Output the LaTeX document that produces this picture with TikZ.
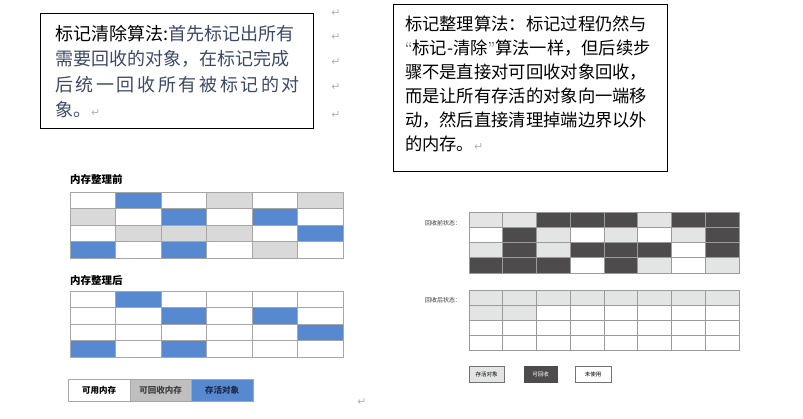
\documentclass[tikz,border=0pt]{standalone}
\usepackage{fontspec}
\newfontfamily\cjk{Noto Sans CJK SC}
\newfontfamily\dejavu{DejaVu Sans}
\definecolor{cW}{HTML}{FFFFFF}
\definecolor{cB}{HTML}{5689D0}
\definecolor{cG}{HTML}{D9D9D9}
\definecolor{cD}{HTML}{4E4B4C}
\definecolor{cL}{HTML}{E3E5E4}
\definecolor{gridL}{HTML}{A6A6A6}
\definecolor{gridR}{HTML}{9A9A9A}
\definecolor{retc}{HTML}{B4B4B4}
\definecolor{navytxt}{HTML}{3C4A6A}
\definecolor{leggray}{HTML}{BFBFBF}
\begin{document}
\begin{tikzpicture}[x=1pt,y=-1pt,
  every node/.style={inner sep=0pt, outer sep=0pt},
  txtbox/.style={draw=black, line width=0.9pt},
  bodyL/.style={anchor=base west, font=\cjk\fontsize{18}{18}\selectfont},
  bodyR/.style={anchor=base west, font=\cjk\fontsize{17.3}{17.3}\selectfont},
  retmark/.style={font=\dejavu\fontsize{11}{11}\selectfont, text=retc},
  gtitle/.style={anchor=west, font=\cjk\bfseries\fontsize{10.5}{10.5}\selectfont},
  celll/.style={draw=gridL, line width=0.6pt},
  cellr/.style={draw=gridR, line width=0.6pt},
  legl/.style={draw=gridL, line width=0.6pt, minimum height=22pt, anchor=north west, font=\cjk\bfseries\fontsize{8.5}{8.5}\selectfont},
  smalllab/.style={anchor=west, font=\cjk\fontsize{6}{6}\selectfont, text=black!80},
  legr/.style={draw=black!55, line width=0.6pt, minimum height=16pt, anchor=north west, font=\cjk\fontsize{5.5}{5.5}\selectfont}
]
\useasboundingbox[fill=white] (0,0) rectangle (803,418);

% ---- left text box
\node[txtbox, minimum width=273pt, minimum height=115pt, anchor=north west] (boxL) at (40,13) {};
\node[bodyL] (l1) at (55,40.5) {标记清除算法:\textcolor{navytxt}{首先标记出所有}};
\node[bodyL, text=navytxt] (l2) at (55,65.8) {需要回收的对象，在标记完成};
\node[bodyL, text=navytxt] (l3) at (55,91.1) {\makebox[245pt][s]{后\hfill 统\hfill 一\hfill 回\hfill 收\hfill 所\hfill 有\hfill 被\hfill 标\hfill 记\hfill 的\hfill 对}};
\node[bodyL, text=navytxt] (l4) at (55,116.4) {象。\textcolor{retc}{\dejavu\fontsize{11}{11}\selectfont ↵}};

% ---- right text box
\node[txtbox, minimum width=274pt, minimum height=167pt, anchor=north west] (boxR) at (393,4) {};
\node[bodyR] (r1) at (405,30.8) {标记整理算法：标记过程仍然与};
\node[bodyR] (r2) at (405,54.7) {{\normalfont “}标记-清除{\normalfont ”}算法一样，但后续步};
\node[bodyR] (r3) at (405,78.6) {骤不是直接对可回收对象回收，};
\node[bodyR] (r4) at (405,102.5) {而是让所有存活的对象向一端移};
\node[bodyR] (r5) at (405,126.4) {动，然后直接清理掉端边界以外};
\node[bodyR] (r6) at (405,150.3) {的内存。\textcolor{retc}{\dejavu\fontsize{11}{11}\selectfont ↵}};

% ---- paragraph marks
\foreach \yy [count=\i] in {13,37,62,87,115} {
  \node[retmark] (pm\i) at (336,\yy) {↵};
}
\node[retmark] (pm6) at (362,402) {↵};

% ---- left grids
\node[gtitle] (tl1) at (70,180) {内存整理前};
\foreach \row [count=\r from 0] in {{W,B,W,G,W,G},{G,W,B,W,B,W},{W,G,G,G,W,B},{B,W,B,W,G,W}} {
  \foreach \c [count=\k from 0] in \row {
    \filldraw[celll, fill=c\c] ({70+\k*45.5},{192+\r*16.5}) rectangle ++(45.5,16.5);
  }
}
\node[gtitle] (tl2) at (70,281) {内存整理后};
\foreach \row [count=\r from 0] in {{W,B,W,W,W,W},{W,W,B,W,B,W},{W,W,W,W,W,B},{B,W,B,W,W,W}} {
  \foreach \c [count=\k from 0] in \row {
    \filldraw[celll, fill=c\c] ({70+\k*45.5},{291+\r*16.5}) rectangle ++(45.5,16.5);
  }
}
% left legend
\node[legl, fill=white, minimum width=62pt] (lg1) at (68,379) {可用内存};
\node[legl, fill=leggray, minimum width=61pt, text=black!75] (lg2) at (130,379) {可回收内存};
\node[legl, fill=cB, minimum width=62pt, text={rgb,255:red,28;green,40;blue,70}] (lg3) at (191,379) {存活对象};

% ---- right grids
\node[smalllab] (rl1) at (425,223) {回收前状态：};
\foreach \row [count=\r from 0] in {{L,L,D,D,D,L,D,D},{W,D,L,W,L,W,L,D},{L,D,L,D,D,D,W,D},{D,D,D,W,D,L,W,L}} {
  \foreach \c [count=\k from 0] in \row {
    \filldraw[cellr, fill=c\c] ({469+\k*33.75},{212+\r*15.25}) rectangle ++(33.75,15.25);
  }
}
\node[smalllab] (rl2) at (425,300) {回收后状态：};
\foreach \row [count=\r from 0] in {{L,L,L,L,L,L,L,L},{L,L,W,W,W,W,W,W},{W,W,W,W,W,W,W,W},{W,W,W,W,W,W,W,W}} {
  \foreach \c [count=\k from 0] in \row {
    \filldraw[cellr, fill=c\c] ({469+\k*33.75},{290+\r*15}) rectangle ++(33.75,15);
  }
}
% right legend
\node[legr, fill=cL, minimum width=35pt] (rg1) at (469,366) {存活对象};
\node[legr, fill=cD, draw=cD, minimum width=33pt, text=white] (rg2) at (524,366) {可回收};
\node[legr, fill=white, minimum width=36pt] (rg3) at (575,366) {未使用};
\end{tikzpicture}
\end{document}
